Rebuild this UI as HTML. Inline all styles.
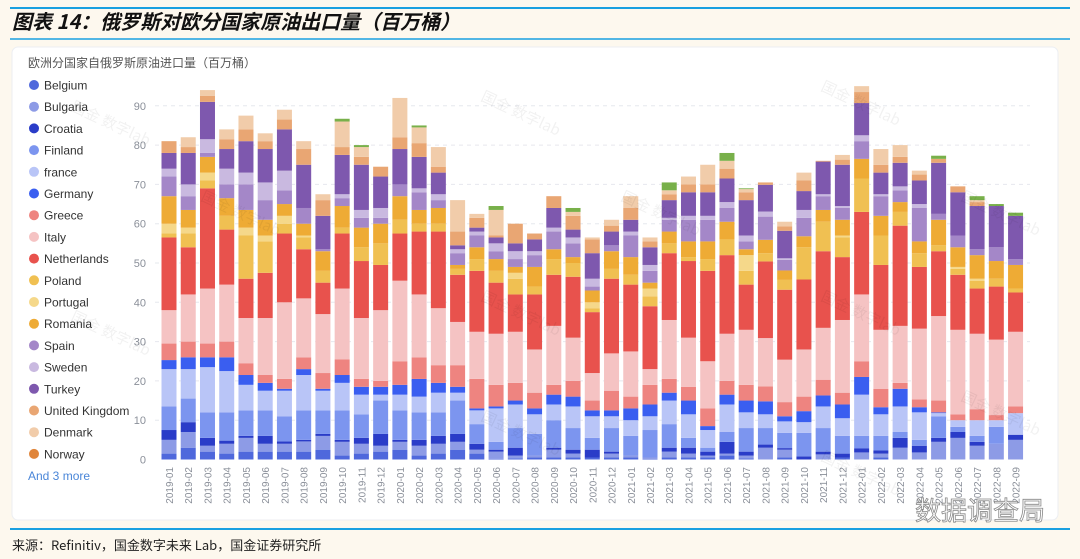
<!DOCTYPE html>
<html><head><meta charset="utf-8"><style>
html,body{margin:0;padding:0;width:1080px;height:559px;background:#fdf8ee;overflow:hidden;font-family:"Liberation Sans","Noto Sans CJK SC",sans-serif}
</style></head><body>
<svg id="s" width="1080" height="559" xmlns="http://www.w3.org/2000/svg" style="position:absolute;left:0;top:0">
<rect x="0" y="0" width="1080" height="559" fill="#fdf8ee"/>
<line x1="10" y1="8" x2="1070" y2="8" stroke="#1aa0e0" stroke-width="2"/>
<text x="12" y="29" font-size="20" font-weight="bold" font-style="italic" fill="#111" font-family="'Noto Sans CJK SC',sans-serif">图表 14：俄罗斯对欧分国家原油出口量（百万桶）</text>
<line x1="10" y1="39" x2="1070" y2="39" stroke="#1aa0e0" stroke-width="1.5"/>
<rect x="12" y="47" width="1046" height="473" rx="6" fill="#ffffff" stroke="#eceef2"/>
<text x="28" y="67" font-size="12" fill="#555" font-family="'Noto Sans CJK SC',sans-serif">欧洲分国家自俄罗斯原油进口量（百万桶）</text>
<line x1="10" y1="529" x2="1070" y2="529" stroke="#1aa0e0" stroke-width="2"/>
<text x="12" y="550" font-size="13" fill="#222" font-family="'Noto Sans CJK SC',sans-serif">来源：Refinitiv，国金数字未来 Lab，国金证券研究所</text>
<g id="g"></g>
<text x="915" y="520" font-size="26" fill="#ffffff" stroke="#888" stroke-width="0.8" font-family="'Noto Sans CJK SC',sans-serif">数据调查局</text>
</svg>
<script>
var C=["#4f68dc","#8d9be6","#2a3cc8","#7c95ef","#b9c5f7","#3a5ef0","#ee8480","#f5c3c3","#e8524d","#f0c052","#f5d88a","#eeab35","#a487c8","#c9b9e0","#7e58ae","#e9a673","#f1ccaa","#78b04a"];
var N=["Belgium","Bulgaria","Croatia","Finland","france","Germany","Greece","Italy","Netherlands","Poland","Portugal","Romania","Spain","Sweden","Turkey","United Kingdom","Denmark","Norway"];
var LC=C.slice(0,17).concat(["#e0853a"]);
var D=[
[1.5,5,7.5,13.5,23,25.3,29.5,38,56.5,57.5,60,67,72,74,78,81,81],
[3,7,9.5,15.5,23,26,30,42,54,57.5,59,63.5,67,70,78,79.5,82],
[2,3.5,5.5,12,23.5,26,29.5,43.5,69,71,73,77,78,81.5,91,92.5,94],
[1.5,4,4.8,12,22.5,26,30,44.5,58.5,62,62,66.5,70,74,79,81.5,84],
[2,5.5,6,12.5,19,21.5,24.5,36,46,57,59,63.5,70,73,81,84,87.5],
[2,4,6,12.5,17.5,19.5,21.5,36,47.5,55.5,57,61,66,70.5,79,81,83],
[2,4,4.6,11,17.5,18,20.5,40,57.5,60,62,65,68.5,73.5,84,86.5,89],
[2,4.6,5,12.5,21.5,23,26,41,53.5,56.5,57,60,64,64,75,79,81],
[2.5,6,6.5,12.5,17.5,18,22,37,45,48,48,53,53.5,53.5,62,66,67.5],
[1,4.5,5,12.5,19.5,21.5,25.5,43.5,57.5,59,59,64.5,66.5,67.5,77.5,79.5,86,86.7],
[1.5,4,5.5,11.5,16.5,18.5,20.5,36,50.5,54,54,59,61.5,63.5,75,77,79.5,80],
[2,3.5,6.5,15,16.5,18.5,20,38,49.5,55,55,60,61.5,64,72,74.5,74.5],
[2.5,4.5,5,12.5,16.5,19,25,45.5,57.5,61,61,67,70,70,79,82,92],
[1,3.5,5,12,16,20.5,26,42,58,60,60,63.5,68,69,77,80.5,84.5,85],
[1.5,4,6,12,17,19.5,24,38.5,58,60,60,64,66,67.5,73,74.5,79.5],
[2.5,4.5,6.5,15,17,18.5,24,35,47,48.5,48.5,49.5,52.5,53.5,54.5,58,66],
[1.5,2.5,4,9,12.5,13,20.5,32.5,48,51,51,54,57,58,59,61.5,62.5],
[0.2,2,2.5,4.5,13,13.5,19,32,45,48,48,51,53,55,56.5,57,63.5,64.5],
[0.3,1,3,8,14,15,19.5,32.5,42,46,47.5,49,51,53,55,60,60],
[0.5,1,1,6.5,11.5,13,17,28,42,44,44,49,52,53,56,57.5,57.5],
[0.5,2.5,3,10,14,16.5,19,34,47,51,51,53.5,58,59,64,67,67],
[0.5,1.5,2.5,8,13.5,16,20,31,46.5,50,50,51.5,55,56.5,58.5,62,63,64],
[0.5,0.5,2.5,5.5,11,12.5,15,22,37.5,38.5,40,43,44,46,52.5,56,56.5],
[0.5,1.5,2,8,11,12.5,17.5,27,46,48.5,48.5,53,54.5,54.5,58,59.5,61],
[0.5,1,1,6,10,13,16,27.5,44.5,47,47,51.5,57,58,61,64,67],
[0.2,0.5,0.5,7.5,11,14,19,23,39,41.5,43.5,45,48,49.5,54,55.5,56.5],
[0.5,2,3,9,15,17,20.5,35.5,52.5,55,55,58,61,61.5,66,67.5,68.5,70.5],
[0.5,1.5,3,5.5,11.5,15,18.5,31,50.5,51.5,51.5,55.5,61,62,68,70,72],
[0.5,1,2,3,7.5,8.5,13,25,48,51,51,55.5,61,62,68,70,75],
[1,1.5,4.5,7,14,16.5,20,32,52,56,56,60.5,64,65.5,71.5,74,76,78],
[0.3,1,2,8,12,15,19,33,44.5,48,52,53.5,55.5,57,66,68,68.8,69],
[0,3,3.8,8,11.5,14.8,18.6,30.9,50.4,52.5,52.5,55.9,61.8,63.1,69.9,70.5,70.5],
[0.5,2.5,2.9,6.8,9.7,11,14.6,25.4,43.2,45.7,45.7,48.1,50.8,51.2,58.2,59.3,60.5],
[0,0,0.8,6.8,9.5,12.3,16,28,45.8,54,54,56.8,61.5,63.5,68.3,71,73],
[0,1.3,2,8,13.5,16.3,20.3,33.5,53,60.5,60.5,63.5,67,67.5,75.8,76,76],
[0.5,0.5,1.5,6,10.5,14,17,35.5,51.5,56.5,57,61,64,64.5,75,76.3,77.5],
[0,1.8,2.8,6,16.5,21,25,42,63,71.5,71.5,76.5,81,82.5,90.7,93.5,95],
[0.5,1.5,2.3,6,11.5,13.3,18,33,49.5,57,57,62,67,67.5,73,75,79],
[0,3,5.5,7,13.5,18,19.5,34,59.5,63,63,65.5,68.5,69.5,75.5,77,80],
[0,1.8,3.5,5,12,13.3,15.3,33.3,49,52.5,52.5,55.5,64,65,71,72.5,73.5],
[0,4.5,5.5,11,11.8,12,15,36.5,53,54.5,54.5,61,62.5,62.5,75.5,76.5,76.5,77.3],
[0,5.5,7,8.3,10,10,11.5,33,47,48.5,49,54,57,57,68,69.5,69.5],
[0,3.5,4.5,6,10,10,12.8,32,43.5,45.5,46,52,53.5,53.5,64.5,65.5,66,67],
[0,4,4,8.3,10,10,11.3,30.5,44,46,46,50.5,54,54,64.5,64.5,64.5,65],
[0,5,6.3,6.3,11.8,11.8,13.5,32.5,42.5,43.5,43.5,49.5,51,51,62,62,62,62.8]
];
var g=document.getElementById('g'),h='';
var y0=459.5,k=3.93;
function Y(v){return y0-v*k}
for(var t=0;t<=90;t+=10){var y=Y(t);
 if(t>0)h+='<line x1="155" y1="'+y+'" x2="1030" y2="'+y+'" stroke="#e6e8ee" stroke-dasharray="4,4"/>';
 h+='<text x="146" y="'+(y+4)+'" font-size="11" fill="#8a8f99" text-anchor="end">'+t+'</text>';}
for(var i=0;i<D.length;i++){var cx=169+19.24*i,d=D[i],p=0;
 for(var j=0;j<18;j++){var v=(j<d.length?d[j]:p);if(v<p)v=p;if(v>p){var col=C[j];
  h+='<rect x="'+(cx-7.5)+'" y="'+Y(v)+'" width="15" height="'+((v-p)*k)+'" fill="'+col+'"/>';}p=v;}
 var yr=2019+Math.floor(i/12),m=(i%12)+1;var lab=yr+'-'+(m<10?'0':'')+m;
 h+='<text transform="translate('+(cx+4)+',467) rotate(-90)" font-size="10" fill="#8a8f99" text-anchor="end">'+lab+'</text>';}
for(var j=0;j<18;j++){var y=85+21.7*j;
 h+='<circle cx="34" cy="'+y+'" r="5" fill="'+LC[j]+'"/><text x="44" y="'+(y+4.5)+'" font-size="12" fill="#333">'+N[j]+'</text>';}
h+='<text x="28" y="480" font-size="12" fill="#4a86d8">And 3 more</text>';
var wm='';[[70,110],[480,100],[820,90],[70,320],[480,300],[820,300],[480,420],[820,460],[200,200],[620,200],[960,200],[960,400]].forEach(function(q){wm+='<text transform="translate('+q[0]+','+q[1]+') rotate(25)" font-size="15" fill="#000" opacity="0.05" font-family="\'Noto Sans CJK SC\',sans-serif">国金 数字lab</text>';});
g.innerHTML=h+wm;
</script>
</body></html>
